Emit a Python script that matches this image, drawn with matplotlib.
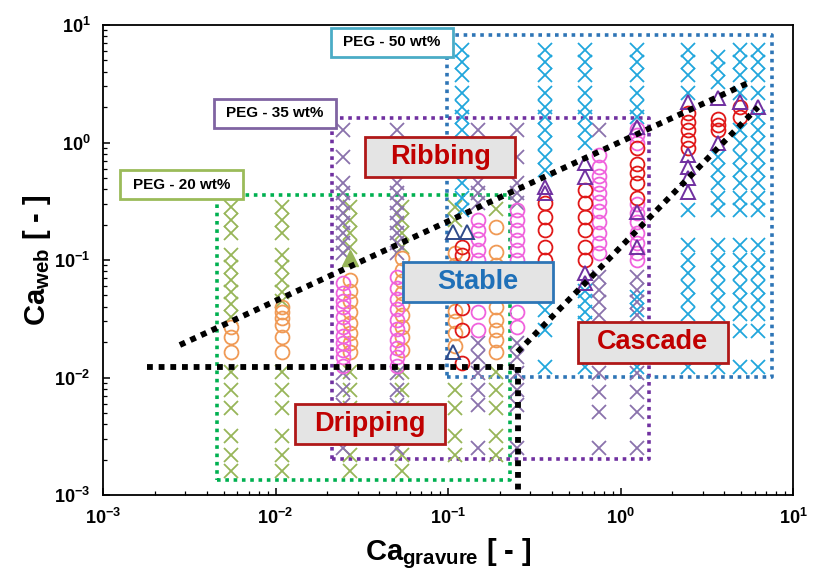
import matplotlib
matplotlib.use('Agg')
import matplotlib.pyplot as plt
from matplotlib.patches import Rectangle
from matplotlib.ticker import LogLocator, FixedLocator, FixedFormatter, NullFormatter

plt.rcParams['font.family'] = ['Liberation Sans', 'DejaVu Sans']
plt.rcParams['mathtext.fontset'] = 'custom'
plt.rcParams['mathtext.rm'] = 'Liberation Sans:bold'
plt.rcParams['mathtext.bf'] = 'Liberation Sans:bold'
plt.rcParams['mathtext.it'] = 'Liberation Sans:bold'
plt.rcParams['mathtext.default'] = 'rm'

# ---------------- data ----------------
# PEG 20 wt%
peg20_cols = [0.0055, 0.0109, 0.027, 0.054, 0.11, 0.19]
peg20_unstable = [
    [0.28, 0.22, 0.17, 0.11, 0.087, 0.068, 0.053, 0.042, 0.033, 0.0111, 0.0078, 0.0055, 0.0032, 0.0022, 0.0016],
    [0.28, 0.22, 0.17, 0.11, 0.087, 0.068, 0.053, 0.045, 0.0111, 0.0078, 0.0055, 0.0032, 0.0022, 0.0016],
    [0.28, 0.22, 0.17, 0.13, 0.0111, 0.0078, 0.0055, 0.0032, 0.0022, 0.0016],
    [0.28, 0.22, 0.17, 0.13, 0.0111, 0.0078, 0.0055, 0.0032, 0.0022, 0.0016],
    [0.28, 0.22, 0.0078, 0.0055, 0.0032, 0.0022],
    [0.27, 0.0111, 0.0078, 0.0055, 0.0032, 0.0022],
]
peg20_stable = [
    [0.027, 0.022, 0.0165],
    [0.040, 0.036, 0.032, 0.028, 0.022, 0.0166],
    [0.068, 0.055, 0.045, 0.036, 0.029, 0.024, 0.0195, 0.0165],
    [0.104, 0.082, 0.066, 0.052, 0.042, 0.034, 0.027, 0.022, 0.017],
    [0.115, 0.09, 0.07, 0.037, 0.03, 0.024, 0.0185],
    [0.19, 0.117, 0.09, 0.07, 0.04, 0.031, 0.0255, 0.021, 0.0165],
]
peg20_ribbing_x = [0.027]
peg20_ribbing_y = [0.103]

# PEG 35 wt%
peg35_cols = [0.0246, 0.0506, 0.149, 0.251, 0.75, 1.25]
peg35_unstable = [
    [1.28, 0.75, 0.45, 0.37, 0.305, 0.25, 0.206, 0.17, 0.14, 0.115, 0.0109, 0.0078, 0.0058, 0.0025],
    [1.28, 0.75, 0.45, 0.37, 0.305, 0.25, 0.206, 0.17, 0.14, 0.115, 0.0109, 0.0078, 0.0058, 0.0025],
    [1.28, 0.75, 0.45, 0.37, 0.305, 0.0196, 0.015, 0.0109, 0.0078, 0.0058, 0.0025],
    [1.28, 0.75, 0.45, 0.37, 0.305, 0.0196, 0.015, 0.0109, 0.0078, 0.0058, 0.0025],
    [1.28, 0.072, 0.056, 0.044, 0.034, 0.025, 0.0109, 0.0075, 0.0051, 0.0025],
    [0.072, 0.056, 0.044, 0.034, 0.0196, 0.015, 0.0109, 0.0075, 0.0051, 0.0025],
]
peg35_stable = [
    [0.064, 0.0525, 0.045, 0.0397, 0.0328, 0.0271, 0.0224, 0.0198, 0.0172, 0.015, 0.0125],
    [0.072, 0.058, 0.047, 0.038, 0.031, 0.026, 0.021, 0.018, 0.015, 0.0125],
    [0.22, 0.18, 0.15, 0.122, 0.1, 0.036, 0.0255],
    [0.267, 0.22, 0.18, 0.148, 0.122, 0.1, 0.036, 0.027],
    [0.78, 0.62, 0.52, 0.44, 0.37, 0.31, 0.26, 0.21, 0.17, 0.14, 0.115],
    [1.3, 1.15, 1.0, 0.3, 0.25, 0.21, 0.17, 0.14, 0.115, 0.1],
]

# PEG 50 wt%
peg50_cols = [0.12, 0.365, 0.62, 1.25, 2.46, 3.67, 4.93, 6.27]
peg50_unstable = [
    [6.1, 4.8, 3.75, 2.64, 2.0, 1.65, 1.28, 0.99, 0.75, 0.58, 0.45, 0.34, 0.267],
    [6.1, 4.8, 3.75, 2.64, 2.0, 1.65, 1.28, 0.99, 0.75, 0.58, 0.048, 0.0375, 0.0254, 0.0123],
    [6.1, 4.8, 3.75, 2.64, 2.0, 1.65, 1.28, 0.99, 0.055, 0.045, 0.036, 0.029, 0.0123],
    [6.1, 4.8, 3.75, 2.64, 2.0, 1.65, 0.048, 0.0375, 0.0123],
    [6.1, 4.8, 3.75, 2.64, 0.267, 0.134, 0.1, 0.078, 0.059, 0.046, 0.035, 0.0123],
    [5.3, 4.2, 3.3, 0.75, 0.58, 0.45, 0.34, 0.267, 0.134, 0.1, 0.078, 0.059, 0.046, 0.035, 0.025, 0.0123],
    [6.1, 4.8, 3.75, 2.64, 1.28, 0.99, 0.75, 0.58, 0.45, 0.34, 0.267, 0.134, 0.1, 0.078, 0.059, 0.046, 0.035, 0.025, 0.0123],
    [6.1, 4.8, 3.75, 2.64, 1.65, 1.28, 0.99, 0.75, 0.58, 0.45, 0.34, 0.267, 0.134, 0.1, 0.078, 0.059, 0.046, 0.035, 0.025, 0.0123],
]
peg50_stable = [
    [0.13, 0.11, 0.082, 0.064, 0.039, 0.0255, 0.0132],
    [0.305, 0.232, 0.18, 0.129, 0.1, 0.082],
    [0.394, 0.305, 0.232, 0.18, 0.129, 0.1],
    [0.9, 0.66, 0.55, 0.45, 0.34],
    [1.78, 1.49, 1.28, 1.05, 0.9],
    [1.6, 1.42, 1.28],
    [2.0, 1.65],
    [],
]
peg50_transition = [
    [],
    [0.42, 0.37],
    [0.67, 0.51, 0.078, 0.064],
    [1.36, 0.256, 0.129],
    [2.21, 0.78, 0.62, 0.5, 0.38],
    [2.39, 0.99],
    [2.2],
    [2.0],
]
navy_tri_x = [0.107, 0.129, 0.107]
navy_tri_y = [0.173, 0.173, 0.0165]

# regime boundaries
ribbing_line_x = [0.00279, 5.48]
ribbing_line_y = [0.0189, 3.21]
cascade_line_x = [0.253, 6.27]
cascade_line_y = [0.0165, 2.0]
dripping_h_x = [0.0018, 0.253]
dripping_h_y = [0.0123, 0.0123]
dripping_v_x = [0.253, 0.253]
dripping_v_y = [0.0123, 0.00107]

# fluid ranges (dotted boxes)
box20_x = [0.00458, 0.2286]; box20_y = [0.00134, 0.357]
box35_x = [0.0213, 1.46];    box35_y = [0.00202, 1.62]
box50_x = [0.0986, 7.55];    box50_y = [0.0101, 8.22]

xticks = [1e-3, 1e-2, 1e-1, 1e0, 1e1]
xticklabels = [r'$10^{-3}$', r'$10^{-2}$', r'$10^{-1}$', r'$10^{0}$', r'$10^{1}$']

# ---------------- plotting ----------------
fig = plt.figure(figsize=(8.31, 5.72), dpi=100)
ax = fig.add_axes([103/831, 77/572, 690/831, 470/572])
ax.set_xscale('log'); ax.set_yscale('log')
ax.set_xlim(1e-3, 1e1); ax.set_ylim(1e-3, 1e1)

C_OLIVE = '#97B558'; C_ORANGE = '#F09A55'
C_PURPX = '#8A72AC'; C_PINK = '#F062DD'
C_CYAN = '#20A6DC'; C_RED = '#E01818'
C_PTRI = '#7030A0'; C_NAVY = '#2F4A8A'

def cols(xs, ylists, **kw):
    for x, ys in zip(xs, ylists):
        if ys:
            ax.plot([x]*len(ys), ys, linestyle='none', **kw)

xkw = dict(marker='x', ms=9.5, mew=1.3)
okw = dict(marker='o', ms=10, mew=1.3, mfc='none')
tkw = dict(marker='^', ms=10, mew=1.4, mfc='none')

cols(peg20_cols, peg20_unstable, color=C_OLIVE, zorder=3, **xkw)
cols(peg35_cols, peg35_unstable, color=C_PURPX, zorder=3, **xkw)
cols(peg50_cols, peg50_unstable, color=C_CYAN, zorder=3, **xkw)
cols(peg20_cols, peg20_stable, color=C_ORANGE, zorder=4, **okw)
cols(peg35_cols, peg35_stable, color=C_PINK, zorder=4, **okw)
cols(peg50_cols, peg50_stable, color=C_RED, zorder=4, **okw)
cols(peg50_cols, peg50_transition, color=C_PTRI, zorder=5, **tkw)
ax.plot(navy_tri_x, navy_tri_y, linestyle='none', color=C_NAVY, zorder=5, **tkw)
ax.plot(peg20_ribbing_x, peg20_ribbing_y, linestyle='none', marker='^', ms=11,
        color=C_OLIVE, zorder=5)

def box(bx, by, color):
    ax.plot([bx[0], bx[1], bx[1], bx[0], bx[0]], [by[0], by[0], by[1], by[1], by[0]],
            color=color, lw=2.6, linestyle=(0, (1, 1.3)), zorder=2)

box(box20_x, box20_y, '#00B050')
box(box35_x, box35_y, '#7030A0')
box(box50_x, box50_y, '#2E75B6')

lkw = dict(color='black', lw=4.2, linestyle=(0, (1, 1)), zorder=6, solid_capstyle='butt',
           dash_capstyle='butt')
ax.plot(ribbing_line_x, ribbing_line_y, **lkw)
ax.plot(cascade_line_x, cascade_line_y, **lkw)
ax.plot(dripping_h_x, dripping_h_y, **lkw)
ax.plot(dripping_v_x, dripping_v_y, **lkw)

def label_box(x0, x1, y0, y1, text, tcolor, ecolor, fcolor, fs):
    ax.add_patch(Rectangle((x0, y0), x1 - x0, y1 - y0, transform=ax.transAxes,
                           facecolor=fcolor, edgecolor=ecolor, lw=2, zorder=8))
    ax.text((x0 + x1) / 2, (y0 + y1) / 2, text, transform=ax.transAxes, ha='center',
            va='center', color=tcolor, fontsize=fs, fontweight='bold', zorder=9)

GREY = '#E4E4E4'
label_box(0.380, 0.597, 0.677, 0.762, 'Ribbing', '#C00000', '#B01818', GREY, 19.5)
label_box(0.435, 0.652, 0.410, 0.496, 'Stable', '#1F70B8', '#2E75B6', GREY, 19.5)
label_box(0.688, 0.906, 0.281, 0.368, 'Cascade', '#C00000', '#B01818', GREY, 19.5)
label_box(0.278, 0.496, 0.109, 0.194, 'Dripping', '#C00000', '#B01818', GREY, 19.5)
label_box(0.330, 0.507, 0.932, 0.994, 'PEG - 50 wt%', 'black', '#4BACC6', 'white', 11)
label_box(0.161, 0.338, 0.781, 0.843, 'PEG - 35 wt%', 'black', '#8064A2', 'white', 11)
label_box(0.0246, 0.203, 0.630, 0.691, 'PEG - 20 wt%', 'black', '#9BBB59', 'white', 11)

# axes styling
for s in ax.spines.values():
    s.set_linewidth(1.3); s.set_color('black')
ax.xaxis.set_major_locator(FixedLocator(xticks))
ax.xaxis.set_major_formatter(FixedFormatter(xticklabels))
ax.yaxis.set_major_locator(FixedLocator(xticks))
ax.yaxis.set_major_formatter(FixedFormatter(xticklabels))
for a in (ax.xaxis, ax.yaxis):
    a.set_minor_locator(LogLocator(base=10, subs=range(2, 10)))
    a.set_minor_formatter(NullFormatter())
ax.tick_params(which='both', direction='in', top=False, right=False)
ax.tick_params(which='major', length=5, width=1.1, labelsize=13, pad=9)
ax.tick_params(which='minor', length=3, width=0.9)

ax.set_xlabel(r'Ca$_{gravure}$ [ - ]', fontsize=21, fontweight='bold', labelpad=6)
ax.set_ylabel(r'Ca$_{web}$ [ - ]', fontsize=21, fontweight='bold', labelpad=1)

fig.savefig('out.png', dpi=100)
